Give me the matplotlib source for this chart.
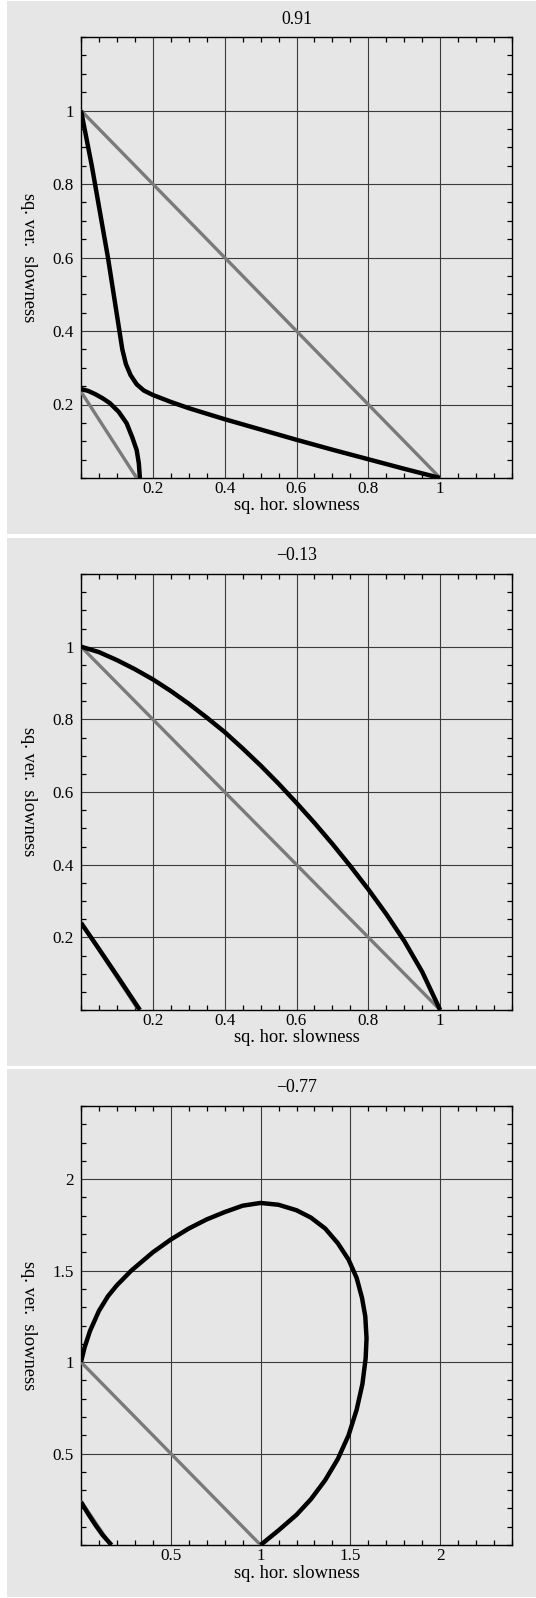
import matplotlib
matplotlib.use("Agg")
import matplotlib.pyplot as plt
from matplotlib.patches import Rectangle
from matplotlib.ticker import FixedLocator, MultipleLocator, FuncFormatter

# ---------------- data ----------------
titles = ["0.91", "\u22120.13", "\u22120.77"]
xlabel = "sq. hor. slowness"
ylabel = "sq. ver.  slowness"

# panel 1
p1_gray1_x = [0.0, 1.0]
p1_gray1_y = [1.0, 0.0]
p1_gray2_x = [0.0, 0.155]
p1_gray2_y = [0.235, 0.0]
p1_big_x = [0.0, 0.01, 0.02, 0.03, 0.039, 0.048, 0.057, 0.066, 0.075, 0.083, 0.091, 0.099,
            0.107, 0.115, 0.125, 0.138, 0.155, 0.175, 0.2, 0.25, 0.3, 0.4, 0.5, 0.6, 0.7,
            0.8, 0.9, 1.0]
p1_big_y = [1.0, 0.95, 0.9, 0.85, 0.8, 0.75, 0.7, 0.65, 0.6, 0.55, 0.5, 0.45,
            0.4, 0.35, 0.31, 0.28, 0.255, 0.238, 0.226, 0.207, 0.19, 0.16, 0.132, 0.104, 0.077,
            0.051, 0.025, 0.0]
p1_small_x = [0.0, 0.02, 0.04, 0.06, 0.08, 0.105, 0.127, 0.143, 0.155, 0.161, 0.164]
p1_small_y = [0.242, 0.237, 0.228, 0.217, 0.204, 0.18, 0.149, 0.11, 0.076, 0.04, 0.0]

# panel 2
p2_gray1_x = [0.0, 1.0]
p2_gray1_y = [1.0, 0.0]
p2_gray2_x = [0.0, 0.16]
p2_gray2_y = [0.24, 0.0]
p2_big_x = [0.0, 0.05, 0.1, 0.15, 0.2, 0.25, 0.3, 0.35, 0.4, 0.45, 0.5, 0.55, 0.6, 0.65,
            0.7, 0.75, 0.8, 0.85, 0.9, 0.95, 1.0]
p2_big_y = [1.0, 0.985, 0.963, 0.938, 0.91, 0.878, 0.843, 0.805, 0.765, 0.72, 0.673, 0.623,
            0.57, 0.515, 0.457, 0.396, 0.332, 0.264, 0.19, 0.105, 0.0]
p2_small_x = [0.0, 0.05, 0.1, 0.164]
p2_small_y = [0.24, 0.168, 0.095, 0.0]

# panel 3
p3_gray1_x = [0.0, 1.0]
p3_gray1_y = [1.0, 0.0]
p3_gray2_x = [0.0, 0.165]
p3_gray2_y = [0.24, 0.0]
p3_loop_x = [0.0, 0.02, 0.05, 0.1, 0.15, 0.2, 0.28, 0.4, 0.5, 0.6, 0.7, 0.8, 0.9, 1.0,
             1.1, 1.2, 1.28, 1.36, 1.43, 1.49, 1.535, 1.565, 1.583, 1.59, 1.585, 1.567, 1.535,
             1.49, 1.43, 1.36, 1.28, 1.2, 1.1, 1.0]
p3_loop_y = [1.0, 1.08, 1.17, 1.28, 1.36, 1.42, 1.5, 1.6, 1.67, 1.73, 1.78, 1.82, 1.855, 1.87,
             1.86, 1.83, 1.79, 1.73, 1.65, 1.56, 1.46, 1.35, 1.25, 1.13, 1.02, 0.88, 0.74,
             0.6, 0.47, 0.355, 0.25, 0.165, 0.08, 0.0]
p3_small_x = [0.0, 0.04, 0.08, 0.12, 0.17]
p3_small_y = [0.235, 0.17, 0.11, 0.055, 0.0]

major_ticks_a = [0.2, 0.4, 0.6, 0.8, 1.0]
major_ticks_b = [0.5, 1.0, 1.5, 2.0]

# ---------------- layout ----------------
W, H = 536, 1598
fig = plt.figure(figsize=(W / 100, H / 100), dpi=100)
fig.patch.set_facecolor("white")
plt.rcParams['font.family'] = ['Liberation Serif', 'DejaVu Serif']

bg = "#e6e6e6"
panels = [(1, 534), (538, 1066), (1069, 1597)]
axes_px = [(37, 478), (574, 1010), (1106, 1545)]
AX_L, AX_R = 81, 512

BLACK = "#000000"
GRAY = "#7a7a7a"
GRID = "#3a3a3a"

def fx(px):
    return px / W

def fy(py):
    return 1 - py / H

for (ptop, pbot) in panels:
    fig.patches.append(Rectangle((fx(7), fy(pbot)), (W - 7) / W, (pbot - ptop) / H,
                                 transform=fig.transFigure, facecolor=bg,
                                 edgecolor="none", zorder=-10))

configs = [
    dict(lim=1.2, majors=major_ticks_a, minor=0.05,
         gray=[(p1_gray1_x, p1_gray1_y), (p1_gray2_x, p1_gray2_y)],
         black=[(p1_big_x, p1_big_y), (p1_small_x, p1_small_y)]),
    dict(lim=1.2, majors=major_ticks_a, minor=0.05,
         gray=[(p2_gray1_x, p2_gray1_y), (p2_gray2_x, p2_gray2_y)],
         black=[(p2_big_x, p2_big_y), (p2_small_x, p2_small_y)]),
    dict(lim=2.4, majors=major_ticks_b, minor=0.1,
         gray=[(p3_gray1_x, p3_gray1_y), (p3_gray2_x, p3_gray2_y)],
         black=[(p3_loop_x, p3_loop_y), (p3_small_x, p3_small_y)]),
]

fmt = FuncFormatter(lambda v, p: "%g" % v)

for i, cfg in enumerate(configs):
    atop, abot = axes_px[i]
    ax = fig.add_axes([fx(AX_L), fy(abot), (AX_R - AX_L) / W, (abot - atop) / H])
    ax.set_facecolor(bg)
    ax.set_xlim(0, cfg["lim"])
    ax.set_ylim(0, cfg["lim"])
    for a in (ax.xaxis, ax.yaxis):
        a.set_major_locator(FixedLocator(cfg["majors"]))
        a.set_minor_locator(MultipleLocator(cfg["minor"]))
        a.set_major_formatter(fmt)
    ax.grid(True, which="major", color=GRID, linewidth=0.8)
    ax.set_axisbelow(True)
    ax.tick_params(which="both", direction="in", top=True, right=True,
                   labelsize=12.3, colors="black")
    ax.tick_params(axis="x", which="major", length=0, pad=2)
    ax.tick_params(axis="y", which="major", length=0, pad=5)
    ax.tick_params(which="minor", length=3.5, width=0.9)
    for s in ax.spines.values():
        s.set_linewidth(1.0)
        s.set_color("black")
    for gx, gy in cfg["gray"]:
        ax.plot(gx, gy, color=GRAY, linewidth=2.4, solid_capstyle="butt", zorder=3)
    for bx, by in cfg["black"]:
        ax.plot(bx, by, color=BLACK, linewidth=3.2, solid_capstyle="butt",
                solid_joinstyle="round", zorder=4)

    xc = (AX_L + AX_R) / 2
    fig.text(fx(xc), fy(panels[i][0] + 18), titles[i], ha="center", va="center", fontsize=12.8)
    fig.text(fx(xc), fy(abot + 28), xlabel, ha="center", va="center", fontsize=13.3)
    fig.text(fx(28), fy((atop + abot) / 2), ylabel, ha="center", va="center",
             rotation=270, fontsize=13.3)

fig.savefig("out.png", dpi=100, facecolor="white")
